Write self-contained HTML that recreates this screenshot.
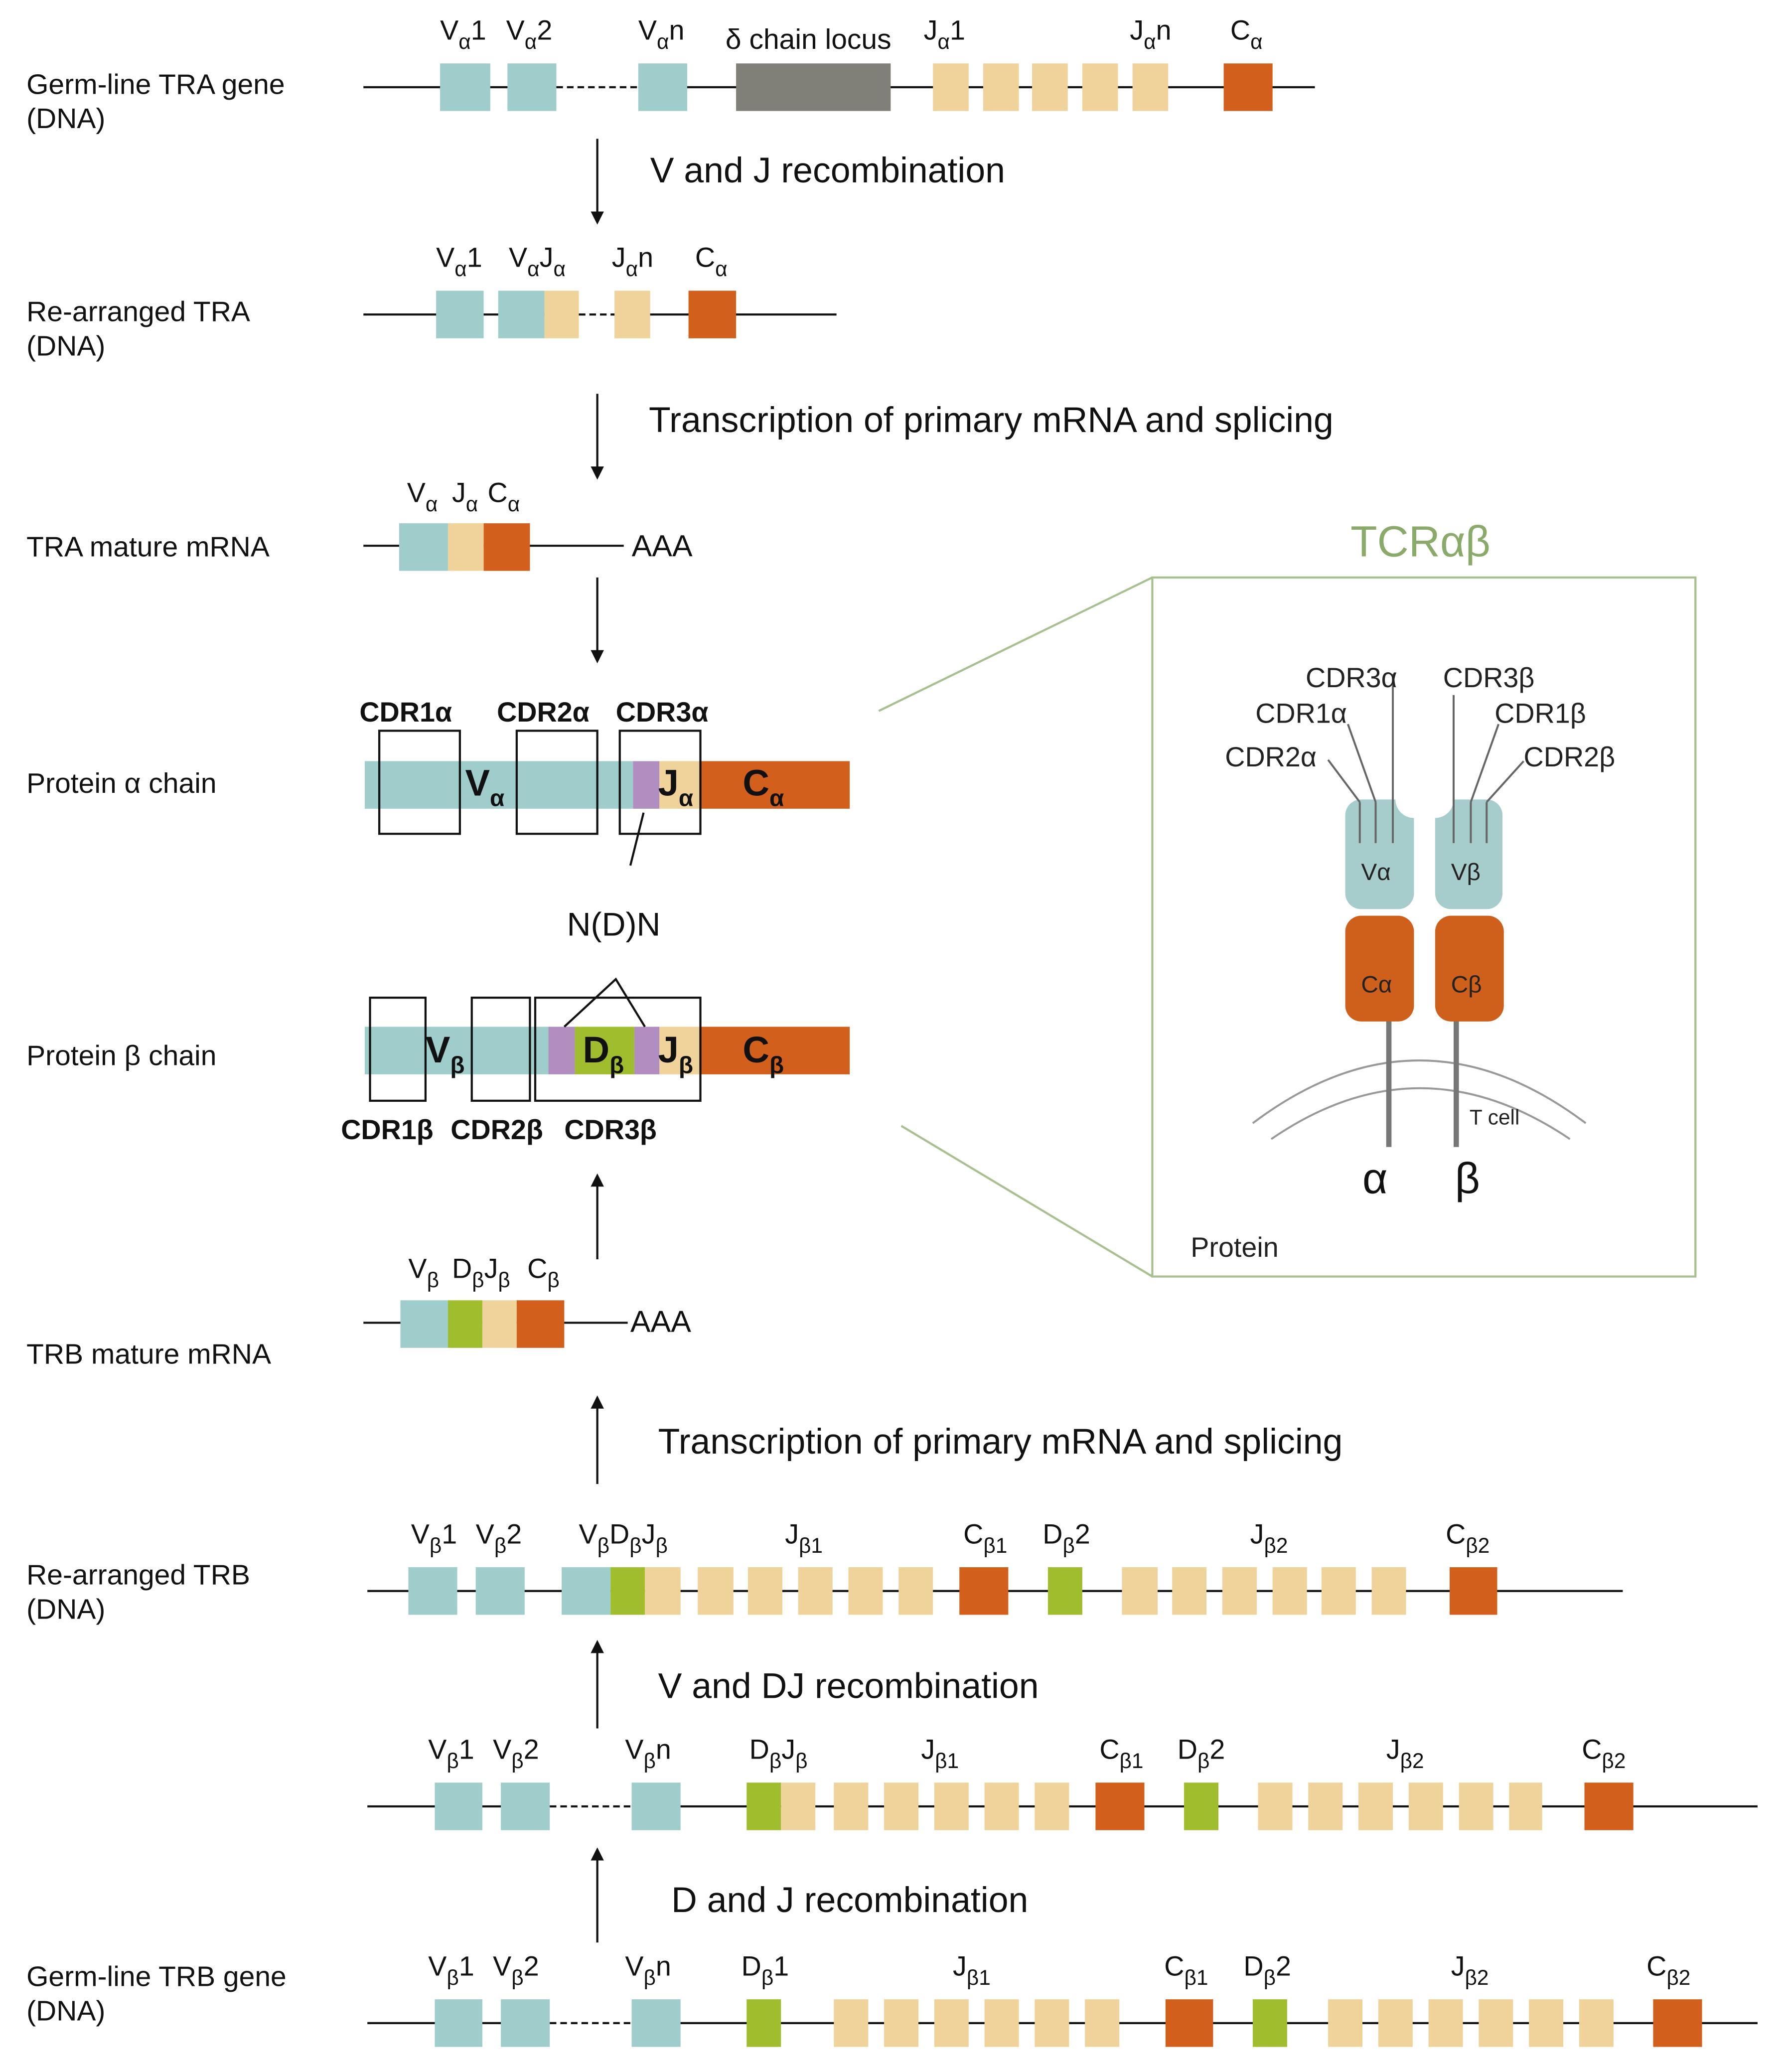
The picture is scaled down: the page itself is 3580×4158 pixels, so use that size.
<!DOCTYPE html>
<html><head><meta charset="utf-8"><style>html,body{margin:0;padding:0;background:#fff}svg{display:block}</style></head><body>
<svg xmlns="http://www.w3.org/2000/svg" width="3580" height="4158" viewBox="0 0 1350 1568" font-family="Liberation Sans, DejaVu Sans, sans-serif" fill="#111">
<defs>
<marker id="ah" markerWidth="10" markerHeight="10" refX="5" refY="5" orient="auto" markerUnits="userSpaceOnUse"><path d="M0,0 L10,5 L0,10 z" fill="#111"/></marker>
</defs>
<style>
.t{fill:#9fcdcb}.n{fill:#efd39a}.o{fill:#d2601c}.g{fill:#9fbd2c}.p{fill:#b08fc0}
.ln{stroke:#111;stroke-width:1.6;fill:none}
.lab{font-size:21.5px}
.sm{font-size:21px}
.big{font-size:27px}
.bx{fill:none;stroke:#111;stroke-width:1.6}
</style>
<g class="lab">
<text x="20" y="71">Germ-line TRA gene</text><text x="20" y="97">(DNA)</text>
<text x="20" y="243">Re-arranged TRA</text><text x="20" y="269">(DNA)</text>
<text x="20" y="421">TRA mature mRNA</text>
<text x="20" y="600">Protein α chain</text>
<text x="20" y="806">Protein β chain</text>
<text x="20" y="1032">TRB mature mRNA</text>
<text x="20" y="1199">Re-arranged TRB</text><text x="20" y="1225">(DNA)</text>
<text x="20" y="1503">Germ-line TRB gene</text><text x="20" y="1529">(DNA)</text>
</g>
<!-- Row 1 -->
<line class="ln" x1="275" y1="66" x2="995" y2="66"/>
<line x1="421" y1="66" x2="483" y2="66" stroke="#fff" stroke-width="3"/>
<line x1="421" y1="66" x2="483" y2="66" stroke="#111" stroke-width="1.6" stroke-dasharray="5,3"/>
<rect class="t" x="333" y="48" width="38" height="36"/><rect class="t" x="384" y="48" width="37" height="36"/><rect class="t" x="483" y="48" width="37" height="36"/>
<rect fill="#808078" x="557" y="48" width="117" height="36"/>
<rect class="n" x="706" y="48" width="27" height="36"/><rect class="n" x="744" y="48" width="27" height="36"/><rect class="n" x="781" y="48" width="27" height="36"/><rect class="n" x="819" y="48" width="27" height="36"/><rect class="n" x="857" y="48" width="27" height="36"/>
<rect class="o" x="926" y="48" width="37" height="36"/>
<g class="sm">
<text x="333" y="30">V<tspan dy="7" font-size="16">α</tspan><tspan dy="-7">1</tspan></text>
<text x="383" y="30">V<tspan dy="7" font-size="16">α</tspan><tspan dy="-7">2</tspan></text>
<text x="483" y="30">V<tspan dy="7" font-size="16">α</tspan><tspan dy="-7">n</tspan></text>
<text x="549" y="37" font-size="21.5">δ chain locus</text>
<text x="699" y="30">J<tspan dy="7" font-size="16">α</tspan><tspan dy="-7">1</tspan></text>
<text x="855" y="30">J<tspan dy="7" font-size="16">α</tspan><tspan dy="-7">n</tspan></text>
<text x="931" y="30">C<tspan dy="7" font-size="16">α</tspan></text>
</g>
<line class="ln" x1="452" y1="105" x2="452" y2="165" marker-end="url(#ah)"/>
<text class="big" x="492" y="138">V and J recombination</text>
<!-- Row 2 -->
<line class="ln" x1="275" y1="238" x2="633" y2="238"/>
<line x1="438" y1="238" x2="465" y2="238" stroke="#fff" stroke-width="3"/>
<line x1="438" y1="238" x2="465" y2="238" stroke="#111" stroke-width="1.6" stroke-dasharray="5,3"/>
<rect class="t" x="330" y="220" width="36" height="36"/><rect class="t" x="377" y="220" width="35" height="36"/><rect class="n" x="412" y="220" width="26" height="36"/>
<rect class="n" x="465" y="220" width="27" height="36"/><rect class="o" x="521" y="220" width="36" height="36"/>
<g class="sm">
<text x="330" y="202">V<tspan dy="7" font-size="16">α</tspan><tspan dy="-7">1</tspan></text>
<text x="385" y="202">V<tspan dy="7" font-size="16">α</tspan><tspan dy="-7">J</tspan><tspan dy="7" font-size="16">α</tspan></text>
<text x="463" y="202">J<tspan dy="7" font-size="16">α</tspan><tspan dy="-7">n</tspan></text>
<text x="526" y="202">C<tspan dy="7" font-size="16">α</tspan></text>
</g>
<line class="ln" x1="452" y1="298" x2="452" y2="358" marker-end="url(#ah)"/>
<text class="big" x="491" y="327">Transcription of primary mRNA and splicing</text>
<!-- Row 3 -->
<line class="ln" x1="275" y1="413" x2="472" y2="413"/>
<rect class="t" x="302" y="396" width="37" height="36"/><rect class="n" x="339" y="396" width="27" height="36"/><rect class="o" x="366" y="396" width="35" height="36"/>
<text x="478" y="421" font-size="23">AAA</text>
<g class="sm">
<text x="308" y="380">V<tspan dy="7" font-size="16">α</tspan></text>
<text x="342" y="380">J<tspan dy="7" font-size="16">α</tspan></text>
<text x="369" y="380">C<tspan dy="7" font-size="16">α</tspan></text>
</g>
<line class="ln" x1="452" y1="437" x2="452" y2="497" marker-end="url(#ah)"/>
<!-- Protein alpha -->
<rect class="t" x="276" y="576" width="203" height="36"/><rect class="p" x="479" y="576" width="20" height="36"/><rect class="n" x="499" y="576" width="31" height="36"/><rect class="o" x="530" y="576" width="113" height="36"/>
<rect class="bx" x="287" y="553" width="61" height="78"/><rect class="bx" x="391" y="553" width="61" height="78"/><rect class="bx" x="469" y="553" width="61" height="78"/>
<!-- Protein beta -->
<rect class="t" x="276" y="777" width="139" height="36"/><rect class="p" x="415" y="777" width="20" height="36"/><rect class="g" x="435" y="777" width="45" height="36"/><rect class="p" x="480" y="777" width="19" height="36"/><rect class="n" x="499" y="777" width="31" height="36"/><rect class="o" x="530" y="777" width="113" height="36"/>
<rect class="bx" x="280" y="755" width="42" height="78"/><rect class="bx" x="357" y="755" width="44" height="78"/><rect class="bx" x="405" y="755" width="125" height="78"/>
<polyline class="ln" points="427,777 466,741 488,777"/>
<g font-weight="bold">
<text x="272" y="546" font-size="21">CDR1α</text><text x="376" y="546" font-size="21">CDR2α</text><text x="466" y="546" font-size="21">CDR3α</text>
<text x="352" y="602" font-size="28">V<tspan dy="8" font-size="18">α</tspan></text>
<text x="498" y="602" font-size="28">J<tspan dy="8" font-size="18">α</tspan></text>
<text x="562" y="602" font-size="28">C<tspan dy="8" font-size="18">α</tspan></text>
<text x="258" y="862" font-size="21">CDR1β</text><text x="341" y="862" font-size="21">CDR2β</text><text x="427" y="862" font-size="21">CDR3β</text>
<text x="322" y="804" font-size="28">V<tspan dy="8" font-size="18">β</tspan></text>
<text x="441" y="804" font-size="28">D<tspan dy="8" font-size="18">β</tspan></text>
<text x="498" y="804" font-size="28">J<tspan dy="8" font-size="18">β</tspan></text>
<text x="562" y="804" font-size="28">C<tspan dy="8" font-size="18">β</tspan></text>
</g>
<line class="ln" x1="487" y1="615" x2="477" y2="655"/>
<text x="429" y="708" font-size="25">N(D)N</text>
<line class="ln" x1="452" y1="953" x2="452" y2="893" marker-end="url(#ah)"/>
<!-- TRB mRNA -->
<line class="ln" x1="275" y1="1001" x2="475" y2="1001"/>
<rect class="t" x="303" y="984" width="36" height="36"/><rect class="g" x="339" y="984" width="26" height="36"/><rect class="n" x="365" y="984" width="26" height="36"/><rect class="o" x="391" y="984" width="36" height="36"/>
<text x="477" y="1008" font-size="23">AAA</text>
<g class="sm">
<text x="309" y="967">V<tspan dy="7" font-size="16">β</tspan></text>
<text x="342" y="967">D<tspan dy="7" font-size="16">β</tspan><tspan dy="-7">J</tspan><tspan dy="7" font-size="16">β</tspan></text>
<text x="399" y="967">C<tspan dy="7" font-size="16">β</tspan></text>
</g>
<line class="ln" x1="452" y1="1123" x2="452" y2="1061" marker-end="url(#ah)"/>
<text class="big" x="498" y="1100">Transcription of primary mRNA and splicing</text>
<!-- Rearranged TRB -->
<line class="ln" x1="278" y1="1204" x2="1228" y2="1204"/>
<g>
<rect class="t" x="309" y="1186" width="37" height="36"/><rect class="t" x="360" y="1186" width="37" height="36"/><rect class="t" x="425" y="1186" width="37" height="36"/><rect class="g" x="462" y="1186" width="26" height="36"/><rect class="n" x="488" y="1186" width="27" height="36"/>
<rect class="n" x="528" y="1186" width="27" height="36"/><rect class="n" x="566" y="1186" width="26" height="36"/><rect class="n" x="604" y="1186" width="26" height="36"/><rect class="n" x="642" y="1186" width="26" height="36"/><rect class="n" x="680" y="1186" width="26" height="36"/>
<rect class="o" x="726" y="1186" width="37" height="36"/><rect class="g" x="793" y="1186" width="26" height="36"/>
<rect class="n" x="849" y="1186" width="27" height="36"/><rect class="n" x="887" y="1186" width="26" height="36"/><rect class="n" x="925" y="1186" width="26" height="36"/><rect class="n" x="963" y="1186" width="26" height="36"/><rect class="n" x="1000" y="1186" width="26" height="36"/><rect class="n" x="1038" y="1186" width="26" height="36"/>
<rect class="o" x="1097" y="1186" width="36" height="36"/>
</g>
<g class="sm">
<text x="311" y="1168">V<tspan dy="7" font-size="16">β</tspan><tspan dy="-7">1</tspan></text>
<text x="360" y="1168">V<tspan dy="7" font-size="16">β</tspan><tspan dy="-7">2</tspan></text>
<text x="438" y="1168">V<tspan dy="7" font-size="16">β</tspan><tspan dy="-7">D</tspan><tspan dy="7" font-size="16">β</tspan><tspan dy="-7">J</tspan><tspan dy="7" font-size="16">β</tspan></text>
<text x="594" y="1168">J<tspan dy="7" font-size="16">β1</tspan></text>
<text x="729" y="1168">C<tspan dy="7" font-size="16">β1</tspan></text>
<text x="789" y="1168">D<tspan dy="7" font-size="16">β</tspan><tspan dy="-7">2</tspan></text>
<text x="946" y="1168">J<tspan dy="7" font-size="16">β2</tspan></text>
<text x="1094" y="1168">C<tspan dy="7" font-size="16">β2</tspan></text>
</g>
<line class="ln" x1="452" y1="1308" x2="452" y2="1246" marker-end="url(#ah)"/>
<text class="big" x="498" y="1285">V and DJ recombination</text>
<!-- DJ row -->
<line class="ln" x1="278" y1="1367" x2="1330" y2="1367"/>
<line x1="416" y1="1367" x2="478" y2="1367" stroke="#fff" stroke-width="3"/>
<line x1="416" y1="1367" x2="478" y2="1367" stroke="#111" stroke-width="1.6" stroke-dasharray="5,3"/>
<g>
<rect class="t" x="329" y="1349" width="36" height="36"/><rect class="t" x="379" y="1349" width="37" height="36"/><rect class="t" x="478" y="1349" width="37" height="36"/>
<rect class="g" x="565" y="1349" width="26" height="36"/><rect class="n" x="591" y="1349" width="26" height="36"/>
<rect class="n" x="631" y="1349" width="26" height="36"/><rect class="n" x="669" y="1349" width="26" height="36"/><rect class="n" x="707" y="1349" width="26" height="36"/><rect class="n" x="745" y="1349" width="26" height="36"/><rect class="n" x="783" y="1349" width="26" height="36"/>
<rect class="o" x="829" y="1349" width="37" height="36"/><rect class="g" x="896" y="1349" width="26" height="36"/>
<rect class="n" x="952" y="1349" width="26" height="36"/><rect class="n" x="990" y="1349" width="26" height="36"/><rect class="n" x="1028" y="1349" width="26" height="36"/><rect class="n" x="1066" y="1349" width="26" height="36"/><rect class="n" x="1104" y="1349" width="26" height="36"/><rect class="n" x="1142" y="1349" width="25" height="36"/>
<rect class="o" x="1199" y="1349" width="37" height="36"/>
</g>
<g class="sm">
<text x="324" y="1331">V<tspan dy="7" font-size="16">β</tspan><tspan dy="-7">1</tspan></text>
<text x="373" y="1331">V<tspan dy="7" font-size="16">β</tspan><tspan dy="-7">2</tspan></text>
<text x="473" y="1331">V<tspan dy="7" font-size="16">β</tspan><tspan dy="-7">n</tspan></text>
<text x="567" y="1331">D<tspan dy="7" font-size="16">β</tspan><tspan dy="-7">J</tspan><tspan dy="7" font-size="16">β</tspan></text>
<text x="697" y="1331">J<tspan dy="7" font-size="16">β1</tspan></text>
<text x="832" y="1331">C<tspan dy="7" font-size="16">β1</tspan></text>
<text x="891" y="1331">D<tspan dy="7" font-size="16">β</tspan><tspan dy="-7">2</tspan></text>
<text x="1049" y="1331">J<tspan dy="7" font-size="16">β2</tspan></text>
<text x="1197" y="1331">C<tspan dy="7" font-size="16">β2</tspan></text>
</g>
<line class="ln" x1="452" y1="1470" x2="452" y2="1403" marker-end="url(#ah)"/>
<text class="big" x="508" y="1447">D and J recombination</text>
<!-- Germline TRB -->
<line class="ln" x1="278" y1="1531" x2="1330" y2="1531"/>
<line x1="416" y1="1531" x2="478" y2="1531" stroke="#fff" stroke-width="3"/>
<line x1="416" y1="1531" x2="478" y2="1531" stroke="#111" stroke-width="1.6" stroke-dasharray="5,3"/>
<g>
<rect class="t" x="329" y="1513" width="36" height="36"/><rect class="t" x="379" y="1513" width="37" height="36"/><rect class="t" x="478" y="1513" width="37" height="36"/>
<rect class="g" x="565" y="1513" width="26" height="36"/>
<rect class="n" x="631" y="1513" width="26" height="36"/><rect class="n" x="669" y="1513" width="26" height="36"/><rect class="n" x="707" y="1513" width="26" height="36"/><rect class="n" x="745" y="1513" width="26" height="36"/><rect class="n" x="783" y="1513" width="26" height="36"/><rect class="n" x="821" y="1513" width="26" height="36"/>
<rect class="o" x="882" y="1513" width="36" height="36"/><rect class="g" x="948" y="1513" width="26" height="36"/>
<rect class="n" x="1005" y="1513" width="26" height="36"/><rect class="n" x="1043" y="1513" width="26" height="36"/><rect class="n" x="1081" y="1513" width="26" height="36"/><rect class="n" x="1119" y="1513" width="26" height="36"/><rect class="n" x="1157" y="1513" width="26" height="36"/><rect class="n" x="1195" y="1513" width="26" height="36"/>
<rect class="o" x="1251" y="1513" width="37" height="36"/>
</g>
<g class="sm">
<text x="324" y="1495">V<tspan dy="7" font-size="16">β</tspan><tspan dy="-7">1</tspan></text>
<text x="373" y="1495">V<tspan dy="7" font-size="16">β</tspan><tspan dy="-7">2</tspan></text>
<text x="473" y="1495">V<tspan dy="7" font-size="16">β</tspan><tspan dy="-7">n</tspan></text>
<text x="561" y="1495">D<tspan dy="7" font-size="16">β</tspan><tspan dy="-7">1</tspan></text>
<text x="721" y="1495">J<tspan dy="7" font-size="16">β1</tspan></text>
<text x="881" y="1495">C<tspan dy="7" font-size="16">β1</tspan></text>
<text x="941" y="1495">D<tspan dy="7" font-size="16">β</tspan><tspan dy="-7">2</tspan></text>
<text x="1098" y="1495">J<tspan dy="7" font-size="16">β2</tspan></text>
<text x="1246" y="1495">C<tspan dy="7" font-size="16">β2</tspan></text>
</g>
<!-- TCR panel -->
<text x="1022" y="421" font-size="33" fill="#8aaa6a">TCRαβ</text>
<rect x="872" y="437" width="411" height="529" fill="none" stroke="#a8c090" stroke-width="1.6"/>
<line x1="665" y1="538" x2="872" y2="437" stroke="#a8c090" stroke-width="1.6"/>
<line x1="682" y1="852" x2="872" y2="966" stroke="#a8c090" stroke-width="1.6"/>
<path d="M948,850 Q1074,755 1200,850" fill="none" stroke="#999" stroke-width="1.5"/>
<path d="M962,862 Q1074,785 1188,862" fill="none" stroke="#999" stroke-width="1.5"/>
<line x1="1051" y1="770" x2="1051" y2="868" stroke="#777" stroke-width="4"/>
<line x1="1102" y1="770" x2="1102" y2="868" stroke="#777" stroke-width="4"/>
<path d="M1028,605 H1056 A14,14 0 0 0 1070,619 V676 A12,12 0 0 1 1058,688 H1030 A12,12 0 0 1 1018,676 V617 A12,12 0 0 1 1030,605 Z" fill="#a6cdcb"/>
<path d="M1100,605 H1125 A12,12 0 0 1 1137,617 V676 A12,12 0 0 1 1125,688 H1098 A12,12 0 0 1 1086,676 V619 A14,14 0 0 0 1100,605 Z" fill="#a6cdcb"/>
<rect x="1018" y="693" width="52" height="80" rx="12" fill="#cf601c"/>
<rect x="1086" y="693" width="52" height="80" rx="12" fill="#cf601c"/>
<g stroke="#666" stroke-width="1.5">
<line x1="1029" y1="607" x2="1029" y2="638"/><line x1="1041" y1="607" x2="1041" y2="638"/><line x1="1054" y1="510" x2="1054" y2="638"/>
<line x1="1100" y1="526" x2="1100" y2="638"/><line x1="1113" y1="607" x2="1113" y2="638"/><line x1="1125" y1="607" x2="1125" y2="638"/>
<line x1="1029" y1="607" x2="1005" y2="575"/><line x1="1041" y1="607" x2="1020" y2="548"/>
<line x1="1113" y1="607" x2="1134" y2="548"/><line x1="1125" y1="607" x2="1153" y2="576"/>
</g>
<g font-size="21" fill="#222">
<text x="988" y="520">CDR3α</text><text x="950" y="547">CDR1α</text><text x="927" y="580">CDR2α</text>
<text x="1092" y="520">CDR3β</text><text x="1131" y="547">CDR1β</text><text x="1153" y="580">CDR2β</text>
<text x="1030" y="666" font-size="18">Vα</text><text x="1098" y="666" font-size="18">Vβ</text>
<text x="1030" y="751" font-size="18">Cα</text><text x="1098" y="751" font-size="18">Cβ</text>
<text x="1112" y="851" font-size="16">T cell</text>
<text x="901" y="951">Protein</text>
</g>
<text x="1031" y="903" font-size="33">α</text><text x="1101" y="903" font-size="33">β</text>
</svg>
</body></html>
